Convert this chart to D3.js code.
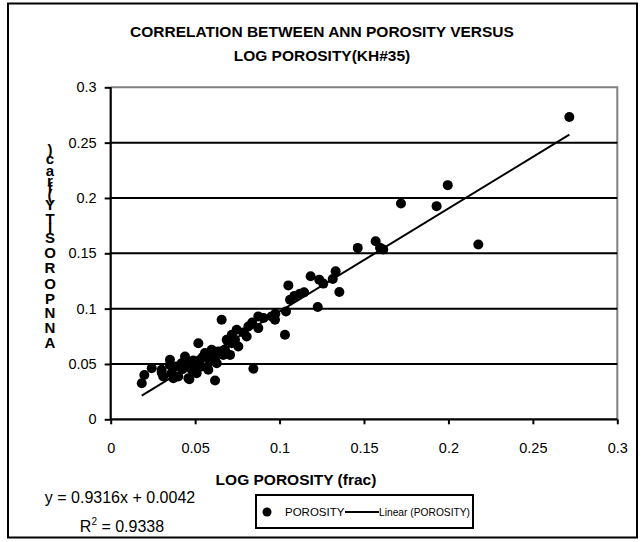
<!DOCTYPE html>
<html><head><meta charset="utf-8">
<script src="https://cdn.jsdelivr.net/npm/d3@7"></script>
<style>body{margin:0;background:#fff}svg{display:block}text{font-family:"Liberation Sans",Arial,sans-serif}</style>
</head><body><svg id="c" width="642" height="542"></svg>
<script>
const titleLines = ["CORRELATION BETWEEN ANN POROSITY VERSUS", "LOG POROSITY(KH#35)"];
const xTitle = "LOG POROSITY (frac)";
const yTitle = "ANN POROSITY (frac)";
const xTicks = [0, 0.05, 0.1, 0.15, 0.2, 0.25, 0.3];
const yTicks = [0, 0.05, 0.1, 0.15, 0.2, 0.25, 0.3];
const logPorosity = [0.2716,0.1996,0.1719,0.193,0.2177,0.1463,0.1569,0.1614,0.1595,0.1184,0.1235,0.1259,0.1315,0.1332,0.1354,0.1052,0.1062,0.112,0.1145,0.1226,0.1038,0.1032,0.0657,0.0953,0.0973,0.0874,0.0874,0.0815,0.0805,0.0746,0.0717,0.0687,0.0756,0.0707,0.0667,0.0845,0.0618,0.0628,0.0578,0.0519,0.0598,0.0558,0.0529,0.0499,0.044,0.042,0.046,0.0351,0.0391,0.0361,0.0311,0.0302,0.0243,0.0199,0.0184,0.048,0.0539,0.04,0.0371,0.0509,0.0618,0.0637,0.0588,0.0677,0.0717,0.0736,0.0302,0.0351,0.0466,0.0456,0.0545,0.0575,0.0489,0.0425,0.0905,0.0838,0.0785,0.0606,0.1088,0.0975];
const annPorosity = [0.2732,0.2116,0.195,0.1926,0.158,0.1549,0.1609,0.1534,0.155,0.1292,0.1262,0.1226,0.1268,0.1337,0.115,0.121,0.108,0.1135,0.1147,0.1014,0.0975,0.0764,0.09,0.093,0.09,0.093,0.0824,0.0839,0.0748,0.0809,0.0764,0.0718,0.0658,0.0582,0.0582,0.0456,0.035,0.0507,0.0447,0.0688,0.0628,0.0598,0.0537,0.0477,0.0567,0.0507,0.0371,0.0537,0.0477,0.0417,0.0386,0.0447,0.0462,0.0401,0.0326,0.0447,0.0477,0.0386,0.0371,0.0417,0.0537,0.0612,0.0522,0.0628,0.0688,0.0718,0.0422,0.0492,0.0362,0.0507,0.0562,0.0577,0.0532,0.0452,0.0915,0.0875,0.0785,0.0596,0.1115,0.0953];
const slope = 0.9316, intercept = 0.0042;
const eqText = "y = 0.9316x + 0.0042";
const r2Value = "0.9338";
const legendLabels = ["POROSITY", "Linear (POROSITY)"];

const svg = d3.select("#c");
const L = 110.7, R = 617.3, T = 87.3, B = 419.3;
const x = d3.scaleLinear().domain([0, 0.3]).range([L, R]);
const y = d3.scaleLinear().domain([0, 0.3]).range([B, T]);

// outer border
svg.append("rect").attr("x", 8).attr("y", 3.5).attr("width", 629).attr("height", 534)
  .attr("fill", "#fff").attr("stroke", "#000").attr("stroke-width", 2);

// title
svg.selectAll(".title").data(titleLines).join("text")
  .attr("x", 322).attr("y", (d, i) => 37 + i * 24).attr("text-anchor", "middle")
  .attr("font-size", 15.5).attr("font-weight", "bold").text(d => d);

// plot border (gray) top & right
svg.append("path").attr("d", `M${L},${T}H${R}V${B}`).attr("fill", "none")
  .attr("stroke", "#808080").attr("stroke-width", 2);

// gridlines
svg.append("g").selectAll("line").data(yTicks.filter(v => v > 0 && v < 0.3)).join("line")
  .attr("x1", L).attr("x2", R).attr("y1", d => y(d)).attr("y2", d => y(d))
  .attr("stroke", "#000").attr("stroke-width", 2);

// axes
const xAxis = d3.axisBottom(x).tickValues(xTicks).tickFormat(d3.format("")).tickSize(5).tickPadding(18);
const yAxis = d3.axisLeft(y).tickValues(yTicks).tickFormat(d3.format("")).tickSize(6).tickPadding(8);
const gx = svg.append("g").attr("transform", `translate(0,${B})`).call(xAxis);
const gy = svg.append("g").attr("transform", `translate(${L},0)`).call(yAxis);
[gx, gy].forEach(g => {
  g.select(".domain").attr("stroke", "#000").attr("stroke-width", 2.2);
  g.selectAll(".tick line").attr("stroke", "#000").attr("stroke-width", 2);
  g.selectAll(".tick text").attr("font-size", 14.5).attr("fill", "#000")
    .style("font-family", '"Liberation Sans",Arial,sans-serif');
});
gx.select(".domain").attr("d", `M${L},0H${R}`);
gy.select(".domain").attr("d", `M0,${B}V${T}`);

// points
svg.append("g").selectAll("circle").data(logPorosity.map((v, i) => [v, annPorosity[i]])).join("circle")
  .attr("cx", d => x(d[0])).attr("cy", d => y(d[1])).attr("r", 5).attr("fill", "#000");

// trendline
const xmin = d3.min(logPorosity), xmax = d3.max(logPorosity);
svg.append("line").attr("x1", x(xmin)).attr("y1", y(slope * xmin + intercept))
  .attr("x2", x(xmax)).attr("y2", y(slope * xmax + intercept))
  .attr("stroke", "#000").attr("stroke-width", 2);

// x title
svg.append("text").attr("x", 296).attr("y", 485).attr("text-anchor", "middle")
  .attr("font-size", 15.5).attr("font-weight", "bold").text(xTitle);

// y title: stacked upright characters, reading bottom to top
const chars = yTitle.split("");
const tg = svg.append("g");
const tnodes = chars.map(c => tg.append("text").attr("text-anchor", "middle")
  .attr("font-size", 15).attr("font-weight", "bold").attr("x", 50).text(c));
const widths = tnodes.map(t => t.node().getComputedTextLength());
let cum = [0];
for (let i = 1; i < chars.length; i++) cum.push(cum[i - 1] + (widths[i - 1] + widths[i]) / 2);
const yBottom = 348, yTop = 155;
const k = (yBottom - yTop) / cum[cum.length - 1];
tnodes.forEach((t, i) => t.attr("y", yBottom - cum[i] * k));

// equation
svg.append("text").attr("x", 120).attr("y", 503).attr("text-anchor", "middle")
  .attr("font-size", 16).text(eqText);
const r2 = svg.append("text").attr("x", 122).attr("y", 532).attr("text-anchor", "middle").attr("font-size", 16);
r2.append("tspan").text("R");
r2.append("tspan").attr("font-size", 10).attr("dy", -7).text("2");
r2.append("tspan").attr("dy", 7).text(" = " + r2Value);

// legend
svg.append("rect").attr("x", 256).attr("y", 495).attr("width", 217).attr("height", 33)
  .attr("fill", "#fff").attr("stroke", "#000").attr("stroke-width", 2);
svg.append("circle").attr("cx", 267).attr("cy", 512).attr("r", 4.5).attr("fill", "#000");
svg.append("text").attr("x", 285).attr("y", 516).attr("font-size", 11.5).text(legendLabels[0]);
svg.append("line").attr("x1", 345).attr("x2", 379).attr("y1", 512).attr("y2", 512)
  .attr("stroke", "#000").attr("stroke-width", 2);
svg.append("text").attr("x", 379).attr("y", 516).attr("font-size", 11.5).attr("textLength", 91)
  .attr("lengthAdjust", "spacingAndGlyphs").text(legendLabels[1]);
</script></body></html>
